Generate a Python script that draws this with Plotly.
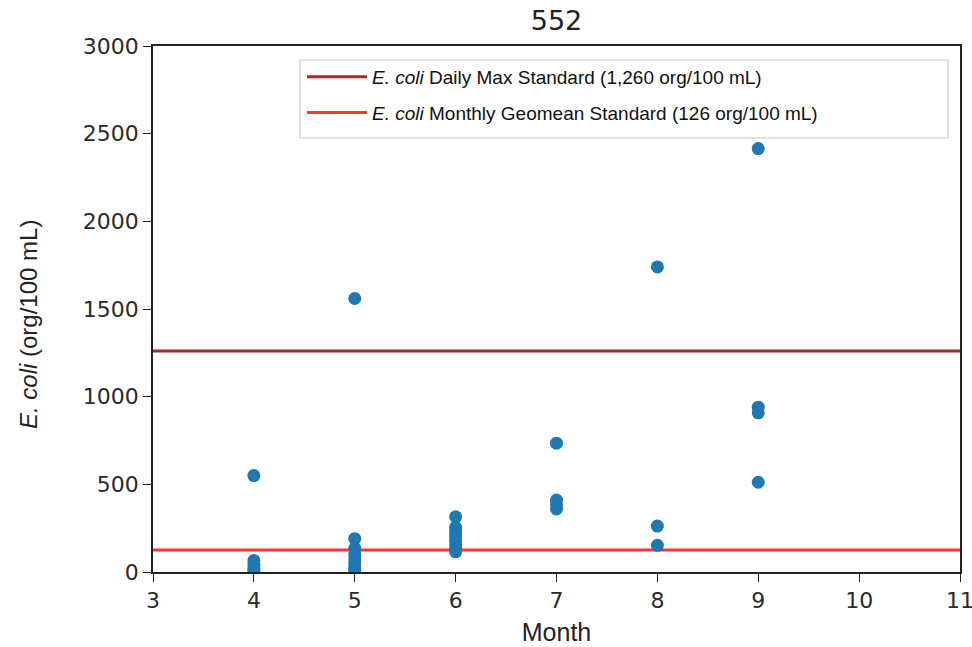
import plotly.graph_objects as go

# Data
month_4 = [550, 65, 40, 20, 5]
month_5 = [1560, 190, 135, 100, 75, 50, 25, 10]
month_6 = [315, 255, 230, 205, 180, 155, 130, 115]
month_7 = [735, 410, 385, 360]
month_8 = [1740, 262, 152]
month_9 = [2415, 940, 908, 512]

months = [4] * len(month_4) + [5] * len(month_5) + [6] * len(month_6) + \
         [7] * len(month_7) + [8] * len(month_8) + [9] * len(month_9)
values = month_4 + month_5 + month_6 + month_7 + month_8 + month_9

daily_max = 1260
geomean = 126
x_range = [3, 11]
y_range = [0, 3000]
x_ticks = [3, 4, 5, 6, 7, 8, 9, 10, 11]
y_ticks = [0, 500, 1000, 1500, 2000, 2500, 3000]

# Plot area in pixels
L, R, T, B = 153, 960, 46, 572
W, H = 972, 647


def px_x(p):
    return (p - L) / (R - L)


def px_y(p):
    return (B - p) / (B - T)


fig = go.Figure()
fig.add_trace(go.Scatter(
    x=x_range, y=[daily_max, daily_max], mode="lines",
    line=dict(color="#a52a2a", width=3),
    name="<i>E. coli</i> Daily Max Standard (1,260 org/100 mL)",
    legendgroup="a",
))
fig.add_trace(go.Scatter(
    x=x_range, y=[geomean, geomean], mode="lines",
    line=dict(color="#ff3535", width=3),
    name="<i>E. coli</i> Monthly Geomean Standard (126 org/100 mL)",
    legendgroup="b",
))
fig.add_trace(go.Scatter(
    x=months, y=values, mode="markers",
    marker=dict(color="#1f77b4", size=13),
    showlegend=False,
))

axis_common = dict(
    showline=True, linecolor="#222", linewidth=1.5, mirror=True,
    ticks="outside", ticklen=8, tickcolor="#222", tickwidth=1.2,
    showgrid=False, zeroline=False, automargin=False,
    ticklabeloverflow="allow",
    tickfont=dict(family="DejaVu Sans", size=22, color="#2a2a2a"),
)

fig.update_layout(
    width=W, height=H,
    margin=dict(l=L, r=W - R, t=T, b=H - B),
    paper_bgcolor="white", plot_bgcolor="white",
    title=dict(text="552", x=0.5, xref="paper", xanchor="center",
               y=1 - 21 / H, yanchor="middle",
               font=dict(family="DejaVu Sans", size=27, color="#222")),
    xaxis=dict(range=x_range, tickvals=x_ticks,
               title=dict(text="Month", font=dict(family="Liberation Sans", size=25, color="#222"),
                          standoff=11),
               **axis_common),
    yaxis=dict(range=y_range, tickvals=y_ticks, **axis_common),
    legend=dict(
        x=px_x(302), y=px_y(58),
        xanchor="left", yanchor="top",
        bgcolor="rgba(0,0,0,0)", borderwidth=0,
        font=dict(family="Liberation Sans", size=19, color="#111"),
        itemwidth=60, tracegroupgap=8, traceorder="grouped",
    ),
    shapes=[dict(
        type="rect", xref="paper", yref="paper",
        x0=px_x(300), x1=px_x(948), y0=px_y(138), y1=px_y(60),
        line=dict(color="#cccccc", width=1.2), fillcolor="white", layer="above",
    )],
    annotations=[dict(
        text="<i>E. coli</i> (org/100 mL)", textangle=-90,
        xref="paper", yref="paper", x=px_x(28), y=px_y(325),
        xanchor="center", yanchor="middle", showarrow=False,
        font=dict(family="Liberation Sans", size=24, color="#222"),
    )],
)

fig.write_html("out.html")
